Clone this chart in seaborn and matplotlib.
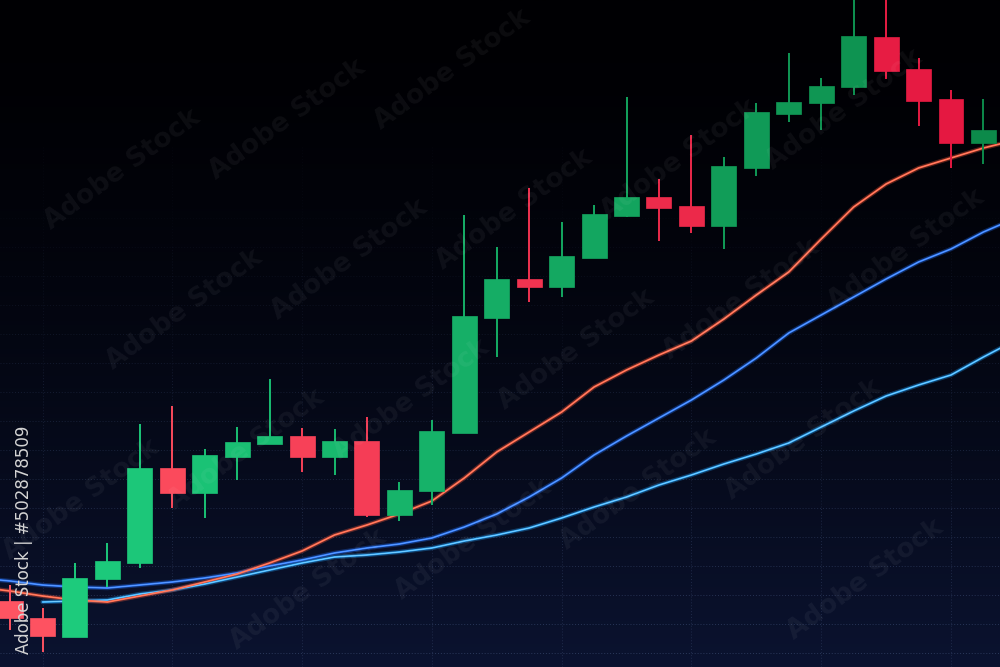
import numpy as np
import pandas as pd
import matplotlib
matplotlib.use("Agg")
import matplotlib.pyplot as plt
import seaborn as sns

# candles (price units, bottom of the screen = 0)
opens  = [66, 49, 30, 88, 104, 199, 174, 210, 223, 231, 210, 226, 152, 176, 234, 349,
          388, 380, 409, 451, 470, 461, 441, 499, 553, 564, 580, 630, 598, 568, 524]
closes = [49, 31, 89, 106, 199, 174, 212, 225, 231, 210, 226, 152, 177, 236, 351, 388,
          380, 411, 453, 470, 459, 441, 501, 555, 565, 581, 631, 596, 566, 524, 537]
highs  = [82, 59, 104, 124, 243, 261, 218, 240, 288, 239, 238, 250, 185, 247, 452, 420,
          479, 445, 462, 570, 488, 532, 510, 564, 614, 589, 677, 672, 609, 577, 568]
lows   = [37, 15, 30, 80, 99, 159, 149, 187, 223, 195, 192, 150, 146, 162, 234, 310,
          365, 370, 409, 450, 426, 434, 418, 491, 545, 537, 572, 588, 541, 499, 503]

# moving averages, bar -1 .. bar 31 (first and last points sit past the screen edges)
ma_x    = list(range(-1, 32))
ma_fast = [80, 76, 71, 67, 65, 71, 77, 85, 93, 104, 116, 132, 142, 153, 166, 189, 215,
           235, 255, 280, 297, 312, 326, 348, 372, 395, 428, 460, 483, 499, 509, 519, 527]
ma_mid  = [89, 86, 82, 80, 79, 82, 85, 89, 94, 101, 107, 114, 119, 123, 129, 140, 153,
           170, 189, 212, 231, 249, 267, 287, 309, 334, 352, 370, 388, 405, 418, 435, 449]
ma_slow = [np.nan, np.nan, 65, 66, 67, 73, 77, 83, 90, 97, 104, 110, 112, 115, 119, 126, 132,
           139, 149, 160, 170, 182, 192, 203, 213, 224, 240, 256, 271, 282, 292, 310, 327]

grid_x = [1, 5, 9, 13, 17, 21, 25, 29]
grid_y = [14, 43, 72, 101, 130, 159, 188, 217, 246, 275, 304, 333, 362, 391, 420, 449]

sns.set_style("dark")

fig = plt.figure(figsize=(10, 6.67), dpi=100)
ax = fig.add_axes([0, 0, 1, 1])
ax.set_xlim(-0.31, 30.51)
ax.set_ylim(0, 667)
ax.axis("off")

# background: black at the top, navy at the bottom
top = np.array([0, 0, 3]) / 255
bot = np.array([11, 19, 48]) / 255
t = np.linspace(0, 1, 256) ** 1.6
grad = (top[None, :] * (1 - t[:, None]) + bot[None, :] * t[:, None])[:, None, :]
ax.imshow(grad, extent=[0, 1, 0, 1], transform=ax.transAxes, aspect="auto", zorder=0)

# faint dotted grid, fading out towards the dark top
for gy in grid_y:
    ax.axhline(gy, color="#3a4a70", lw=0.7, ls=(0, (1, 2)), alpha=0.7 * (1 - gy / 500), zorder=1)
for gx in grid_x:
    for y0, y1, a in [(0, 160, 0.45), (160, 300, 0.3), (300, 420, 0.16), (420, 520, 0.07)]:
        ax.vlines(gx, y0, y1, color="#3a4a70", lw=0.7, ls=(0, (1, 2)), alpha=a, zorder=1)

# moving average lines with a little glow
df = pd.DataFrame({"x": ma_x, "fast": ma_fast, "mid": ma_mid, "slow": ma_slow})
for col, c, core in [("slow", "#2aa8ff", "#a8e6ff"), ("mid", "#2a78ff", "#7fb3ff"), ("fast", "#ff5e40", "#ff9a80")]:
    sns.lineplot(data=df, x="x", y=col, ax=ax, color=c, lw=3.2, alpha=0.3, zorder=2)
    sns.lineplot(data=df, x="x", y=col, ax=ax, color=c, lw=1.4, zorder=3)
    sns.lineplot(data=df, x="x", y=col, ax=ax, color=core, lw=0.5, alpha=0.8, zorder=3)

# candles, colours drift darker towards the top right like on the screen
n = len(opens)
g_left, g_right = np.array([30, 208, 128]) / 255, np.array([12, 138, 74]) / 255
r_left, r_right = np.array([255, 84, 98]) / 255, np.array([228, 22, 64]) / 255
for i in range(n):
    f = i / (n - 1)
    up = closes[i] >= opens[i]
    col = (g_left * (1 - f) + g_right * f) if up else (r_left * (1 - f) + r_right * f)
    ax.vlines(i, lows[i], highs[i], color=col, lw=1.4, zorder=4)
    lo = min(opens[i], closes[i])
    ax.bar(i, abs(closes[i] - opens[i]), bottom=lo, width=0.77, color=col,
           edgecolor=col, lw=0.5, zorder=5)

# stock photo watermarks (only the ones that fit fully on screen)
for row in range(-2, 6):
    for k in range(-1, 8):
        wx = 60 + 165 * k + 62 * row
        wy = 30 + 140 * row - 50 * k
        if 75 < wx < 925 and 60 < wy < 605:
            fig.text(wx / 1000, 1 - wy / 667, "Adobe Stock", rotation=36, color="white",
                     alpha=0.05, fontsize=19, fontweight="bold", ha="center", va="center")

fig.text(0.024, 1 - 540 / 667, "Adobe Stock | #502878509", rotation=90, color="#d4d4d4",
         fontsize=12, ha="center", va="center")

fig.savefig("out.png", dpi=100)
